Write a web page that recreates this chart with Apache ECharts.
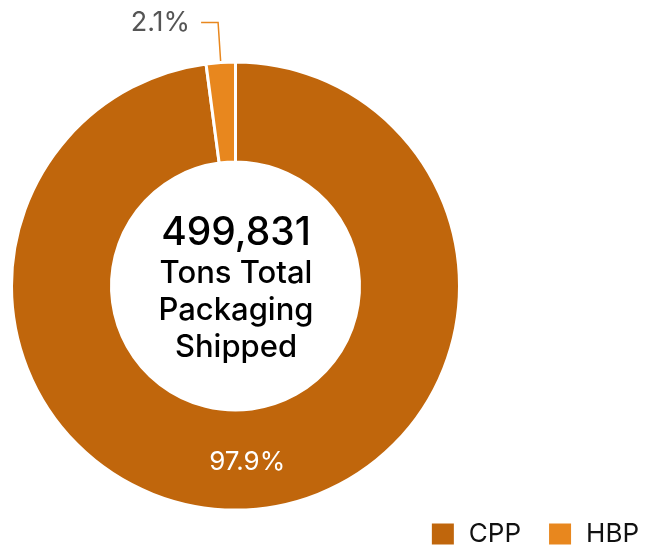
<!DOCTYPE html>
<html>
<head>
<meta charset="utf-8">
<script src="https://cdn.jsdelivr.net/npm/echarts@6/dist/echarts.min.js"></script>
<style>
  html, body { margin: 0; padding: 0; background: #fff; }
  #chart { width: 646px; height: 551px; }
</style>
</head>
<body>
<div id="chart"></div>
<script>
// share of total packaging shipped (tons)
const categories = ["CPP", "HBP"];
const shares = [97.9, 2.1];
const colors = ["#C0660C", "#E8871E"];
const totalTons = "499,831";
const centerLines = ["Tons Total", "Packaging", "Shipped"];

const chart = echarts.init(document.getElementById("chart"));

chart.setOption({
  textStyle: { fontFamily: "Inter" },
  color: colors,
  legend: {
    data: categories,
    right: 2,
    bottom: -1,
    itemWidth: 24,
    itemHeight: 23,
    itemGap: 26,
    icon: "rect",
    textStyle: {
      fontFamily: "Inter",
      fontSize: 26,
      color: "#111",
      padding: [0, 0, 0, 9],
    },
  },
  graphic: [
    {
      type: "text",
      left: 236 - 90,
      top: 214,
      style: {
        text: "{a|" + totalTons + "}\n" + centerLines.map((l) => "{b|" + l + "}").join("\n"),
        width: 180,
        align: "center",
        rich: {
          a: { fontFamily: "Inter", fontSize: 39, fontWeight: 500, lineHeight: 44, fill: "#000", align: "center", width: 180 },
          b: { fontFamily: "Inter", fontSize: 31, fontWeight: 500, lineHeight: 37, fill: "#000", align: "center", width: 180 },
        },
      },
    },
  ],
  series: [
    {
      type: "pie",
      center: [235.5, 286],
      radius: [124, 224],
      startAngle: 90,
      clockwise: true,
      percentPrecision: 1,
      avoidLabelOverlap: false,
      itemStyle: { borderColor: "#fff", borderWidth: 3 },
      labelLine: { length: 40, length2: 17, lineStyle: { width: 1.5 } },
      emphasis: { disabled: true },
      data: categories.map((name, i) => ({
        name,
        value: shares[i],
        label:
          i === 0
            ? { position: "inside", color: "#fff", fontSize: 26, formatter: "{d}%" }
            : { position: "outside", color: "#555", fontSize: 27, formatter: "{d}%", distanceToLabelLine: 11 },
        labelLine: i === 0 ? { show: false } : { show: true },
      })),
    },
  ],
});
</script>
</body>
</html>
